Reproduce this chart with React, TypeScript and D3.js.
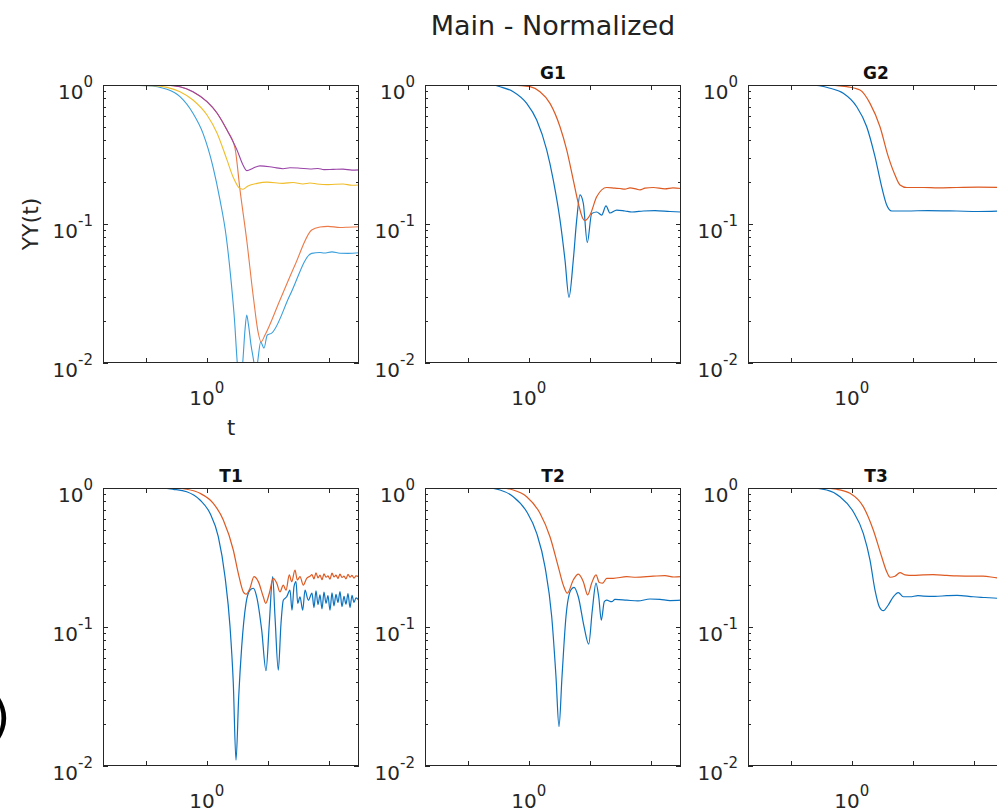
import React from 'react';
import * as d3 from 'd3';

type P = [number, number];

const mainTitle = 'Main - Normalized';
const panelTitles = ['', 'G1', 'G2', 'T1', 'T2', 'T3'];
const xTickValues = [0.1, 1, 10, 100];
const xLabelValues = [1];
const yTickValues = [0.01, 0.1, 1];
const xDomain: [number, number] = [0.02, 310];
const yDomain: [number, number] = [0.01, 1];

const mainBlue: P[] = [[0.02,1],[0.105,0.988],[0.223,0.931],[0.364,0.824],[0.594,0.626],[0.867,0.449],[1.263,0.258],[1.644,0.149],[2.062,0.0833],[2.489,0.0396],[2.841,0.0204],[3.157,0.0100],[3.496,0.0070],[3.869,0.0100],[4.220,0.0173],[4.500,0.0221],[4.815,0.0188],[5.291,0.0135],[5.923,0.0100],[6.269,0.0082],[6.758,0.0100],[7.626,0.0142],[8.636,0.0128],[9.779,0.0159],[11.54,0.0164],[23.01,0.0308],[52.12,0.0615],[71.3,0.0624],[82.8,0.0618],[112.0,0.0630],[151.4,0.0616],[204.8,0.0615],[310,0.0621]];
const mainOrange: P[] = [[0.02,1],[0.223,0.995],[0.364,0.972],[0.594,0.895],[1.007,0.758],[1.469,0.629],[2.141,0.474],[2.894,0.352],[3.496,0.176],[4.500,0.0767],[5.769,0.0300],[6.966,0.0164],[7.713,0.0142],[8.970,0.0159],[15.78,0.0284],[27.78,0.0507],[52.12,0.0905],[71.3,0.0951],[96.3,0.0962],[151.4,0.0944],[204.8,0.0948],[310,0.0956]];
const mainYellow: P[] = [[0.02,1],[0.1316,0.988],[0.223,0.962],[0.364,0.895],[0.594,0.780],[1.007,0.608],[1.469,0.452],[2.141,0.289],[2.685,0.219],[3.496,0.180],[3.913,0.178],[4.725,0.188],[6.633,0.196],[9.667,0.200],[17.68,0.196],[25.76,0.199],[37.55,0.194],[48.89,0.197],[63.66,0.194],[96.3,0.192],[169.6,0.194],[238.1,0.190],[310,0.191]];
const mainPurple: P[] = [[0.02,1],[0.223,0.995],[0.364,0.972],[0.594,0.895],[1.007,0.758],[1.469,0.629],[2.141,0.474],[3.121,0.341],[3.913,0.266],[4.550,0.242],[5.704,0.252],[7.428,0.262],[12.12,0.256],[17.68,0.250],[23.01,0.254],[33.55,0.252],[48.89,0.249],[66.1,0.251],[82.8,0.246],[116.3,0.247],[169.6,0.248],[238.1,0.244],[310,0.245]];

const g1Blue: P[] = [[0.02,1],[0.260,1],[0.338,0.972],[0.557,0.895],[0.924,0.738],[1.347,0.560],[1.963,0.341],[2.518,0.207],[3.242,0.107],[3.913,0.0551],[4.550,0.0297],[5.350,0.0551],[6.082,0.107],[6.889,0.162],[7.802,0.141],[9.071,0.0735],[10.71,0.119],[12.93,0.122],[15.61,0.116],[18.35,0.135],[21.33,0.120],[27.47,0.126],[37.55,0.124],[48.89,0.122],[74.84,0.124],[116.3,0.125],[204.8,0.123],[310,0.122]];
const g1Orange: P[] = [[0.02,1],[0.551,0.998],[1.046,0.972],[1.525,0.895],[2.223,0.738],[3.242,0.501],[4.172,0.341],[5.350,0.207],[6.462,0.141],[7.626,0.110],[8.318,0.106],[10.04,0.116],[12.93,0.157],[18.84,0.183],[25.76,0.181],[31.10,0.180],[37.55,0.178],[45.34,0.182],[58.38,0.178],[66.1,0.176],[79.8,0.181],[109.1,0.183],[169.6,0.179],[229.2,0.182],[310,0.180]];

const g2Blue: P[] = [[0.02,1],[0.207,1],[0.440,0.947],[0.726,0.872],[1.203,0.698],[1.754,0.501],[2.398,0.305],[3.086,0.185],[3.727,0.137],[4.500,0.124],[7.921,0.124],[17.68,0.125],[52.12,0.124],[116.3,0.123],[310,0.124]];
const g2Orange: P[] = [[0.02,1],[0.338,1],[0.825,0.972],[1.362,0.920],[1.987,0.738],[2.894,0.501],[3.957,0.305],[5.094,0.225],[6.152,0.191],[7.921,0.183],[14.81,0.183],[25.76,0.182],[52.12,0.183],[116.3,0.184],[310,0.183]];

const tailT: number[] = [52.7,56.8,61.3,66.1,71.3,76.9,82.8,89.4,96.3,103.9,112.0,120.8,130.2,140.4,151.4,163.3,176.1,189.8,204.8,220.8,238.1,256.7,276.8,310];
const t1BlueHead: P[] = [[0.02,1],[0.1714,1],[0.283,0.979],[0.469,0.940],[0.774,0.820],[1.128,0.658],[1.542,0.446],[1.987,0.230],[2.398,0.101],[2.715,0.0394],[3.006,0.0110],[3.329,0.0315],[3.727,0.0722],[4.383,0.148],[5.094,0.184],[5.769,0.190],[6.559,0.165],[7.921,0.0950],[9.311,0.0485],[10.55,0.106],[11.98,0.230],[13.08,0.118],[14.81,0.0490],[16.39,0.106],[17.88,0.156],[20.32,0.165],[23.01,0.184],[24.82,0.132],[26.75,0.195],[28.85,0.212],[30.75,0.148],[33.55,0.165],[37.13,0.132],[40.50,0.184],[45.85,0.156]];
const t1BlueTail: number[] = [0.175,0.138,0.182,0.145,0.170,0.135,0.178,0.148,0.168,0.132,0.176,0.142,0.172,0.150,0.180,0.140,0.166,0.146,0.174,0.138,0.169,0.150,0.162,0.155];
const t1OrangeHead: P[] = [[0.02,1],[0.280,1],[0.469,0.979],[0.774,0.916],[1.278,0.776],[1.863,0.589],[2.715,0.358],[3.279,0.243],[3.957,0.179],[4.383,0.172],[5.094,0.190],[5.923,0.230],[6.966,0.212],[8.412,0.165],[9.208,0.148],[10.55,0.175],[12.26,0.224],[13.94,0.207],[15.78,0.179],[17.88,0.200],[19.80,0.184],[22.41,0.237],[24.54,0.212],[27.78,0.257],[30.30,0.218],[33.55,0.230],[37.98,0.200],[43.17,0.224],[48.89,0.232]];
const t1OrangeTail: number[] = [0.238,0.222,0.245,0.226,0.236,0.219,0.241,0.228,0.233,0.221,0.244,0.229,0.236,0.224,0.240,0.227,0.232,0.222,0.239,0.228,0.235,0.225,0.233,0.230];

const t2Blue: P[] = [[0.02,1],[0.207,1],[0.338,0.967],[0.557,0.866],[0.924,0.675],[1.347,0.472],[1.842,0.271],[2.371,0.119],[2.787,0.0439],[3.121,0.0192],[3.496,0.0439],[4.063,0.119],[4.851,0.184],[5.494,0.193],[6.462,0.165],[8.011,0.101],[9.562,0.0754],[10.95,0.132],[12.59,0.207],[13.94,0.165],[15.38,0.112],[17.22,0.152],[18.84,0.156],[22.75,0.152],[25.76,0.158],[40.04,0.156],[61.3,0.154],[96.3,0.159],[140.4,0.158],[204.8,0.155],[310,0.156]];
const t2Orange: P[] = [[0.02,1],[0.338,1],[0.557,0.967],[0.924,0.866],[1.525,0.658],[2.223,0.446],[3.040,0.271],[3.672,0.200],[4.268,0.175],[5.350,0.218],[6.462,0.240],[7.802,0.212],[9.208,0.170],[10.71,0.207],[12.59,0.237],[14.26,0.209],[16.21,0.207],[18.84,0.224],[24.17,0.224],[40.04,0.230],[56.8,0.228],[109.1,0.232],[169.6,0.234],[238.1,0.229],[310,0.230]];

const t3Blue: P[] = [[0.02,1],[0.207,1],[0.388,0.967],[0.641,0.866],[1.058,0.675],[1.542,0.472],[1.987,0.303],[2.398,0.184],[2.819,0.140],[3.279,0.131],[3.957,0.144],[4.778,0.165],[5.769,0.177],[6.966,0.165],[8.970,0.165],[12.12,0.168],[14.81,0.167],[23.01,0.166],[35.75,0.168],[52.7,0.169],[97.43,0.165],[151.4,0.163],[238.1,0.161],[310,0.159]];
const t3Orange: P[] = [[0.02,1],[0.302,1],[0.566,0.979],[0.934,0.916],[1.542,0.734],[2.248,0.499],[3.086,0.320],[3.727,0.250],[4.220,0.228],[5.094,0.232],[6.152,0.246],[7.428,0.237],[10.04,0.235],[14.81,0.237],[21.33,0.238],[35.75,0.235],[52.7,0.233],[97.43,0.232],[140.4,0.232],[238.1,0.226],[310,0.225]];

const t1Blue: P[] = t1BlueHead.concat(tailT.map((t, i) => [t, t1BlueTail[i]] as P));
const t1Orange: P[] = t1OrangeHead.concat(tailT.map((t, i) => [t, t1OrangeTail[i]] as P));

const BLUE = '#0b72c0';
const ORANGE = '#dd5a22';
const BLUE_L = '#3a9fdc';
const ORANGE_L = '#ec7a48';
const YELLOW = '#f0bd2a';
const PURPLE = '#9a45a8';
const AX = '#262626';
const FONT = 'DejaVu Sans, sans-serif';

interface Series { data: P[]; color: string; width: number }
interface Panel { title: string; series: Series[]; xlabel?: string; ylabel?: string }

const panels: Panel[] = [
  { title: panelTitles[0], xlabel: 't', ylabel: 'YY(t)', series: [
    { data: mainBlue, color: BLUE_L, width: 1.1 },
    { data: mainOrange, color: ORANGE_L, width: 1.1 },
    { data: mainYellow, color: YELLOW, width: 1.1 },
    { data: mainPurple, color: PURPLE, width: 1.1 },
  ] },
  { title: panelTitles[1], series: [{ data: g1Blue, color: BLUE, width: 1.2 }, { data: g1Orange, color: ORANGE, width: 1.2 }] },
  { title: panelTitles[2], series: [{ data: g2Blue, color: BLUE, width: 1.2 }, { data: g2Orange, color: ORANGE, width: 1.2 }] },
  { title: panelTitles[3], series: [{ data: t1Blue, color: BLUE, width: 1.2 }, { data: t1Orange, color: ORANGE, width: 1.2 }] },
  { title: panelTitles[4], series: [{ data: t2Blue, color: BLUE, width: 1.2 }, { data: t2Orange, color: ORANGE, width: 1.2 }] },
  { title: panelTitles[5], series: [{ data: t3Blue, color: BLUE, width: 1.2 }, { data: t3Orange, color: ORANGE, width: 1.2 }] },
];

const COLS = [103, 425, 748];
const ROWS = [85, 488];
const PW = 256;
const PH = 278;

function expLabel(v: number): string {
  return String(Math.round(Math.log10(v)));
}

function PanelView({ p, idx }: { p: Panel; idx: number }) {
  const left = COLS[idx % 3];
  const top = ROWS[Math.floor(idx / 3)];
  const x = d3.scaleLog().domain(xDomain).range([left, left + PW]);
  const y = d3.scaleLog().domain(yDomain).range([top + PH, top]);
  const line = d3.line<P>().x(d => x(d[0])).y(d => y(d[1])).curve(d3.curveMonotoneX);
  const clipId = `clip${idx}`;
  const minor: number[] = [];
  [0.01, 0.1].forEach(dec => { for (let m = 2; m <= 9; m++) minor.push(m * dec); });
  const right = left + PW;
  const bottom = top + PH;
  return (
    <g>
      <defs>
        <clipPath id={clipId}><rect x={left} y={top} width={PW} height={PH} /></clipPath>
      </defs>
      <g clipPath={`url(#${clipId})`}>
        {p.series.map((s, i) => (
          <path key={i} d={line(s.data) || ''} fill="none" stroke={s.color} strokeWidth={s.width} strokeLinejoin="round" />
        ))}
      </g>
      <rect x={left + 0.5} y={top + 0.5} width={PW - 1} height={PH - 1} fill="none" stroke={AX} strokeWidth={1} />
      {minor.map(v => (
        <g key={v}>
          <line x1={left} x2={left + 3} y1={Math.round(y(v)) + 0.5} y2={Math.round(y(v)) + 0.5} stroke={AX} />
          <line x1={right - 3} x2={right} y1={Math.round(y(v)) + 0.5} y2={Math.round(y(v)) + 0.5} stroke={AX} />
        </g>
      ))}
      {yTickValues.map(v => (
        <g key={v}>
          <line x1={left} x2={left + 5} y1={Math.round(y(v)) + 0.5} y2={Math.round(y(v)) + 0.5} stroke={AX} />
          <line x1={right - 5} x2={right} y1={Math.round(y(v)) + 0.5} y2={Math.round(y(v)) + 0.5} stroke={AX} />
          <text x={left - 10} y={y(v) + 14} textAnchor="end" fontFamily={FONT} fill={AX}>
            <tspan fontSize={20}>10</tspan>
            <tspan fontSize={15} dy={-12.5}>{expLabel(v)}</tspan>
          </text>
        </g>
      ))}
      {xTickValues.map(v => (
        <g key={v}>
          <line x1={Math.round(x(v)) + 0.5} x2={Math.round(x(v)) + 0.5} y1={bottom} y2={bottom - 5} stroke={AX} />
          <line x1={Math.round(x(v)) + 0.5} x2={Math.round(x(v)) + 0.5} y1={top} y2={top + 5} stroke={AX} />
        </g>
      ))}
      {xLabelValues.map(v => (
        <text key={v} x={x(v)} y={bottom + 42} textAnchor="middle" fontFamily={FONT} fill={AX}>
          <tspan fontSize={20}>10</tspan>
          <tspan fontSize={15} dy={-12}>{expLabel(v)}</tspan>
        </text>
      ))}
      {p.title && (
        <text x={left + PW / 2} y={top - 6} textAnchor="middle" fontFamily={FONT} fontWeight="bold" fontSize={17} fill="#111">{p.title}</text>
      )}
      {p.xlabel && (
        <text x={left + PW / 2} y={bottom + 72} textAnchor="middle" fontFamily={FONT} fontSize={21} fill={AX}>{p.xlabel}</text>
      )}
      {p.ylabel && (
        <text transform={`translate(38,${top + PH / 2}) rotate(-90)`} textAnchor="middle" fontFamily={FONT} fontSize={22} fill={AX}>{p.ylabel}</text>
      )}
    </g>
  );
}

export default function App() {
  return (
    <svg width={997} height={812} style={{ position: 'absolute', left: 0, top: 0, background: '#fff' }}>
      <rect x={0} y={0} width={997} height={812} fill="#fff" />
      <text x={553} y={35} textAnchor="middle" fontFamily={FONT} fontSize={27} fill="#222">{mainTitle}</text>
      <text x={-9} y={734} fontFamily={FONT} fontSize={50} fill="#000">)</text>
      {panels.map((p, i) => <PanelView key={i} p={p} idx={i} />)}
    </svg>
  );
}
